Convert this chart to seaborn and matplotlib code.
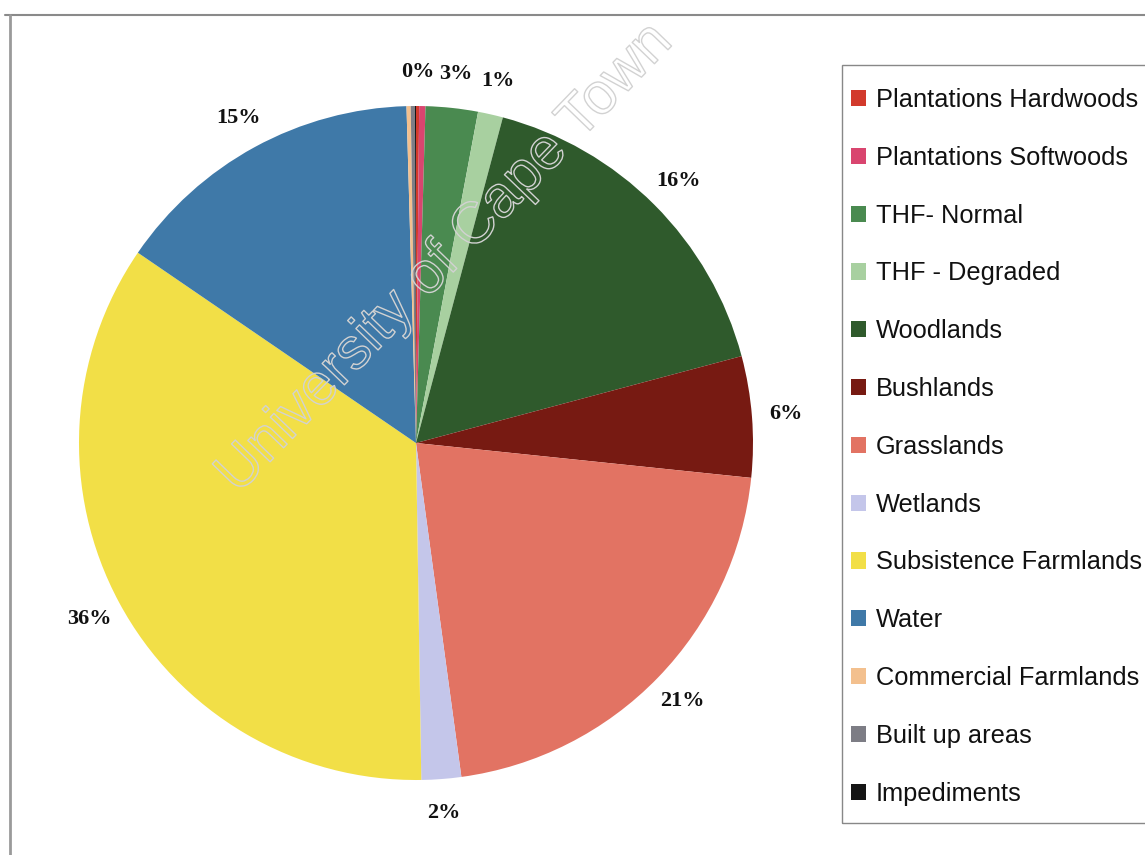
import matplotlib
matplotlib.use('Agg')
import matplotlib.pyplot as plt
import seaborn as sns
from matplotlib import patheffects
from matplotlib.lines import Line2D
from matplotlib.patches import Rectangle

categories = ["Plantations Hardwoods", "Plantations Softwoods", "THF- Normal",
              "THF - Degraded", "Woodlands", "Bushlands", "Grasslands", "Wetlands",
              "Subsistence Farmlands", "Water", "Commercial Farmlands",
              "Built up areas", "Impediments"]
shares = [0.15, 0.3, 2.5, 1.2, 16.7, 5.8, 21.2, 1.9, 34.8, 15.0, 0.2, 0.2, 0.05]
pct_labels = ["0%", "", "3%", "1%", "16%", "6%", "21%", "2%", "36%", "15%", "", "", ""]
colors = ["#d23a2c", "#d9456f", "#4a8a50", "#a8d0a0", "#2f5a2c", "#771a12",
          "#e27363", "#c4c6ea", "#f2df47", "#3f79a8", "#f3c08e", "#7d7d85", "#151515"]

sns.set_theme(style="white")
plt.rcParams['font.family'] = ['Liberation Sans', 'DejaVu Sans']
palette = sns.color_palette(colors)

W, H = 1145, 855
fig = plt.figure(figsize=(W / 100, H / 100), dpi=100)
fig.patch.set_facecolor("white")

cx, cy, r = 416, 443, 337
ax = fig.add_axes([(cx - r) / W, 1 - (cy + r) / H, 2 * r / W, 2 * r / H])
wedges, texts = ax.pie(shares, colors=palette, labels=pct_labels, startangle=90,
                       counterclock=False, labeldistance=1.1,
                       wedgeprops=dict(linewidth=0),
                       textprops=dict(family=['Liberation Serif', 'DejaVu Serif'],
                                      fontweight='bold', fontsize=16, color='#111111'))
for t in texts:
    t.set_ha('center')
    t.set_va('center')
ax.set_xlim(-1, 1)
ax.set_ylim(-1, 1)
ax.axis('off')

# legend box
fig.add_artist(Rectangle((842 / W, 1 - 823 / H), (1170 - 842) / W, (823 - 65) / H,
                         transform=fig.transFigure, fill=False, ec='#888888', lw=1.0))
leg = fig.legend(wedges, categories, loc='upper left',
                 bbox_to_anchor=(851 / W, 1 - 88 / H), frameon=False, fontsize=18.3,
                 handlelength=0.6, handleheight=0.6, handletextpad=0.38,
                 labelspacing=1.33, borderpad=0, borderaxespad=0)
for txt in leg.get_texts():
    txt.set_color('#111111')

# outer chart frame
fig.add_artist(Line2D([5 / W, 1.0], [1 - 15 / H, 1 - 15 / H], transform=fig.transFigure,
                      color='#8a8a8a', lw=1.5))
fig.add_artist(Line2D([10 / W, 10 / W], [0, 1 - 15 / H], transform=fig.transFigure,
                      color='#9a9a9a', lw=2))

# faint watermark
fig.text(238 / W, 1 - 495 / H, "University of Cape Town", rotation=46,
         rotation_mode='anchor', ha='left', va='baseline', fontsize=42,
         color=(1, 1, 1, 0), family=['Liberation Sans', 'DejaVu Sans'],
         path_effects=[patheffects.Stroke(linewidth=1.0, foreground='#d2d2d2')])

fig.savefig("out.png", dpi=100)
